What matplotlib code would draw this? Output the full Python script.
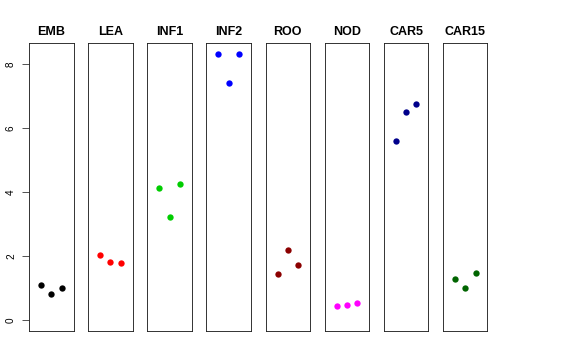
import matplotlib
matplotlib.use('Agg')
import matplotlib.pyplot as plt

plt.rcParams['font.family'] = ['Liberation Sans', 'DejaVu Sans']

# data
tissues = ['EMB', 'LEA', 'INF1', 'INF2', 'ROO', 'NOD', 'CAR5', 'CAR15']
colors = ['black', '#FF0000', '#00CD00', '#0000FF', '#8B0000', '#FF00FF', '#00008B', '#006400']
rep_x = [1, 2, 3]
EMB = [1.11, 0.83, 1.02]
LEA = [2.03, 1.81, 1.80]
INF1 = [4.13, 3.21, 4.24]
INF2 = [8.30, 7.41, 8.32]
ROO = [1.46, 2.19, 1.74]
NOD = [0.44, 0.49, 0.54]
CAR5 = [5.60, 6.50, 6.74]
CAR15 = [1.28, 1.00, 1.49]
values = [EMB, LEA, INF1, INF2, ROO, NOD, CAR5, CAR15]

ymax = max(max(v) for v in values)
ylim = (0 - 0.04 * ymax, ymax + 0.04 * ymax)

fig = plt.figure(figsize=(8, 5), dpi=72)

W, H = 576.0, 360.0
left0 = 29.0
step = 59.14
pw = 44.5
top = 43.0
bottom = 331.0

for i, name in enumerate(tissues):
    ax = fig.add_axes([(left0 + i * step) / W, (H - bottom) / H, pw / W, (bottom - top) / H])
    ax.scatter(rep_x, values[i], s=40, color=colors[i], linewidths=0, zorder=3)
    ax.set_xlim(-0.16, 4.16)
    ax.set_ylim(ylim)
    ax.set_xticks([])
    ax.set_title(name, fontsize=12.5, fontweight='bold', pad=8)
    for sp in ax.spines.values():
        sp.set_linewidth(0.9)
        sp.set_color('#222222')
    if i == 0:
        ax.set_yticks([0, 2, 4, 6, 8])
        ax.tick_params(axis='y', length=7, width=0.9, color='#444444', pad=6, labelsize=10)
        for lab in ax.get_yticklabels():
            lab.set_rotation(90)
            lab.set_va('center')
    else:
        ax.set_yticks([])

fig.savefig('out.png', dpi=72)
